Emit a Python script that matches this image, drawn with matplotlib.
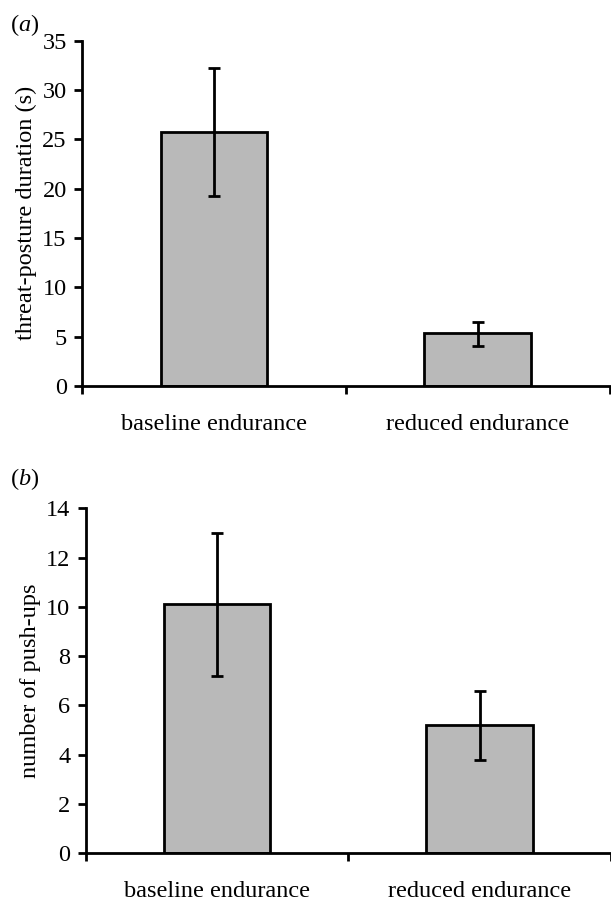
import matplotlib
matplotlib.use("Agg")
import matplotlib.pyplot as plt
import numpy as np

# --- data ---
categories = ["baseline endurance", "reduced endurance"]

threat_means = [25.7, 5.4]
threat_upper = [32.2, 6.5]
threat_lower = [19.2, 4.1]

pushup_means = [10.1, 5.2]
pushup_upper = [13.0, 6.6]
pushup_lower = [7.2, 3.8]

plt.rcParams['font.family'] = ['Liberation Serif', 'DejaVu Serif']
plt.rcParams['font.size'] = 17.5
plt.rcParams['mathtext.fontset'] = 'custom'
plt.rcParams['mathtext.it'] = 'Liberation Serif:italic'
plt.rcParams['mathtext.rm'] = 'Liberation Serif'

BAR_COLOR = '#b9b9b9'
LW = 2.0

fig = plt.figure(figsize=(6.11, 9.05), dpi=100)


def draw_panel(ax, means, upper, lower, ymax, ystep, ylabel):
    x = np.arange(len(categories))
    means = np.array(means)
    yerr = [means - np.array(lower), np.array(upper) - means]
    ax.bar(x, means, width=0.405, color=BAR_COLOR, edgecolor='black',
           linewidth=LW, zorder=2)
    ax.errorbar(x, means, yerr=yerr, fmt='none', ecolor='black',
                elinewidth=LW, capsize=4.3, capthick=LW, zorder=3)
    ax.set_xlim(-0.5, len(categories) - 0.5)
    ax.set_ylim(0, ymax)
    ax.set_yticks(np.arange(0, ymax + 0.1, ystep))
    # boundary ticks without labels, category names centred under bars
    ax.set_xticks(np.arange(-0.5, len(categories), 1.0))
    ax.set_xticklabels([])
    ax.set_xticks(x, minor=True)
    ax.set_xticklabels(categories, minor=True)
    ax.tick_params(axis='x', which='minor', length=0, pad=20)
    ax.tick_params(axis='x', which='major', length=6, width=LW, direction='out')
    ax.tick_params(axis='y', length=6, width=LW, direction='out', pad=5)
    for s in ['top', 'right']:
        ax.spines[s].set_visible(False)
    for s in ['left', 'bottom']:
        ax.spines[s].set_linewidth(LW)
    ax.spines['bottom'].set_zorder(4)
    ax.set_ylabel(ylabel, labelpad=4)
    return ax


ax1 = fig.add_axes([0.1342, 0.5735, 0.8640, 0.3817])
draw_panel(ax1, threat_means, threat_upper, threat_lower, 35, 5,
           'threat-posture duration (s)')
fig.text(0.016, 0.987, r'($\mathit{a}$)', va='top', ha='left')

ax2 = fig.add_axes([0.1403, 0.0571, 0.8597, 0.3812])
draw_panel(ax2, pushup_means, pushup_upper, pushup_lower, 14, 2,
           'number of push-ups')
fig.text(0.016, 0.485, r'($\mathit{b}$)', va='top', ha='left')

fig.savefig('out.png', dpi=100)
